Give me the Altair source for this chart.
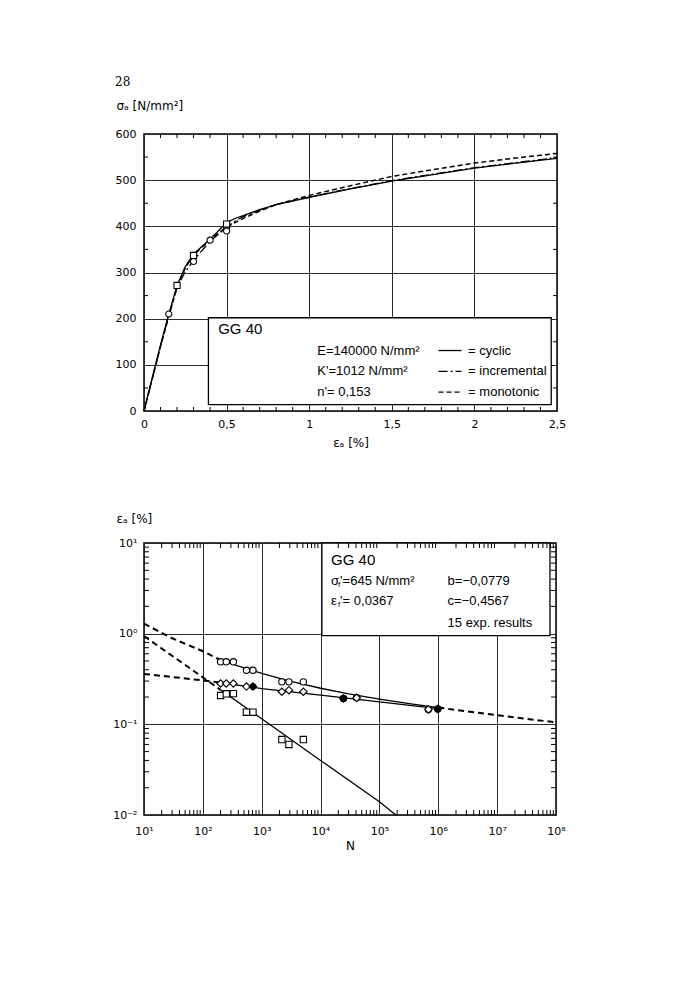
import altair as alt
import pandas as pd

FONT = "DejaVu Sans"
TFONT = "Liberation Sans"

# ---------------- top chart: cyclic stress-strain curve ----------------
cyc_eps = [0, 0.05, 0.10, 0.15, 0.20, 0.25, 0.30, 0.40, 0.50, 0.55, 0.60, 0.70, 0.80, 1.00, 1.25, 1.50, 1.75, 2.00, 2.25, 2.50]
cyc_sig = [0, 72, 143, 210, 272, 313, 340, 372, 408, 417, 423, 436, 447, 463, 481, 498, 512, 526, 537, 547]
inc_eps = [0, 0.05, 0.10, 0.15, 0.20, 0.25, 0.30, 0.40, 0.50, 0.55, 0.60, 0.70, 0.80, 1.00, 1.25, 1.50, 1.75, 2.00, 2.25, 2.50]
inc_sig = [0, 70, 140, 207, 268, 302, 326, 368, 397, 411, 421, 435, 447, 463, 482, 499, 513, 527, 538, 549]
mono_eps = [0, 0.05, 0.10, 0.15, 0.20, 0.25, 0.30, 0.40, 0.50, 0.60, 0.70, 0.80, 1.00, 1.25, 1.50, 1.75, 2.00, 2.25, 2.50]
mono_sig = [0, 70, 140, 205, 268, 310, 338, 371, 399, 417, 433, 447, 467, 488, 508, 523, 537, 548, 558]

circ_eps = [0.15, 0.30, 0.40, 0.50, 0.50]
circ_sig = [210, 324, 370, 398, 390]
sq_eps = [0.20, 0.30, 0.50]
sq_sig = [272, 337, 405]

top_xticks = [0, 0.5, 1, 1.5, 2, 2.5]
top_yticks = [0, 100, 200, 300, 400, 500, 600]
top_xminor = [0.1, 0.2, 0.3, 0.4, 0.6, 0.7, 0.8, 0.9, 1.1, 1.2, 1.3, 1.4, 1.6, 1.7, 1.8, 1.9, 2.1, 2.2, 2.3, 2.4]
top_yminor = [50, 150, 250, 350, 450, 550]

top_box = {"x": [0.39], "x2": [2.465], "y": [13.6], "y2": [202]}
top_texts = ["GG 40", "E=140000 N/mm²", "K'=1012 N/mm²", "n'= 0,153"]
top_text_x = [0.449, 1.049, 1.049, 1.049]
top_text_y = [177, 131, 86, 41]
top_text_size = [15, 13, 13, 13]
leg_names = ["= cyclic", "= incremental", "= monotonic"]
leg_y = [131, 86, 41]
leg_x0, leg_x1, leg_tx = 1.783, 1.922, 1.962

# ---------------- bottom chart: strain-life curve ----------------
tot_N = [10, 30, 100, 200, 500, 1000, 3000, 1e4, 3e4, 1e5, 3e5, 1e6, 1e7, 1e8]
tot_eps = [1.29, 0.89, 0.64, 0.51, 0.42, 0.365, 0.30, 0.25, 0.217, 0.19, 0.17, 0.153, 0.126, 0.105]
el_N = [10, 100, 200, 1000, 1e4, 1e5, 1e6]
el_eps = [0.36, 0.305, 0.288, 0.248, 0.21, 0.177, 0.149]
pl_N = [10, 100, 200, 1000, 1e4, 1e5, 1.9e5]
pl_eps = [0.94, 0.33, 0.24, 0.115, 0.040, 0.014, 0.010]

pt_N = [200, 250, 330, 550, 710, 2200, 2900, 5100, 24500, 41000, 6.8e5, 9.8e5]
tot_pts = [0.489, 0.489, 0.489, 0.395, 0.395, 0.294, 0.294, 0.294, 0.193, 0.196, 0.146, 0.148]
el_pts = [0.282, 0.282, 0.282, 0.261, 0.261, 0.229, 0.238, 0.229, 0.193, 0.196, 0.146, 0.148]
pl_pts = [0.208, 0.217, 0.218, 0.136, 0.136, 0.068, 0.060, 0.068]
fill_N = [710, 24500, 9.8e5]
fill_eps = [0.261, 0.193, 0.148]

bot_xticks = [1e1, 1e2, 1e3, 1e4, 1e5, 1e6, 1e7, 1e8]
bot_yticks = [0.01, 0.1, 1, 10]
bot_xminor = [k * 10 ** d for d in range(1, 8) for k in range(2, 10)]
bot_yminor = [k * 10.0 ** d for d in range(-2, 1) for k in range(2, 10)]

bot_box = {"x": [10520], "x2": [7.9e7], "y": [0.953], "y2": [10]}
bot_text_x = [15100, 15100, 15100, 1.44e6, 1.44e6, 1.44e6]
bot_text_y = [6.55, 3.78, 2.27, 3.78, 2.27, 1.315]
bot_texts = ["GG 40", "σ", "ε", "b=−0,0779", "c=−0,4567", "15 exp. results"]
bot_text_size = [15, 13, 13, 13, 13, 13]
sub_texts = ["f", "f"]
sub_y = [3.78, 2.27]
rest_texts = ["'=645 N/mm²", "'= 0,0367"]

W1, H1 = 413, 277
W2, H2 = 412, 272

# ---------- encodings ----------
X1 = alt.X("x:Q", scale=alt.Scale(domain=[0, 2.5], nice=False, zero=False),
           axis=alt.Axis(values=top_xticks, title="εₐ [%]",
                         labelExpr="replace(format(datum.value, '~g'), '.', ',')",
                         labelFlush=False, labelOverlap=False,
                         labelPadding=7, titlePadding=8))
Y1 = alt.Y("y:Q", scale=alt.Scale(domain=[0, 600], nice=False),
           axis=alt.Axis(values=top_yticks, title="σₐ [N/mm²]", titleAngle=0,
                         titleAlign="left", titleBaseline="middle", titleX=-28, titleY=-29,
                         labelFlush=False, labelOverlap=False, labelPadding=8))


def df(xs, ys, **extra):
    d = pd.DataFrame({"x": xs, "y": ys})
    for k, v in extra.items():
        d[k] = v
    return d


def line(d, dash, width, enc_x, enc_y):
    kw = {"color": "black", "strokeWidth": width}
    if dash:
        kw["strokeDash"] = dash
    return alt.Chart(d).mark_line(**kw).encode(x=enc_x, y=enc_y)


top_layers = []
top_layers.append(line(df(cyc_eps, cyc_sig), None, 1.3, X1, Y1))
top_layers.append(line(df(inc_eps, inc_sig), [9, 3, 2, 3], 1.3, X1, Y1))
top_layers.append(line(df(mono_eps, mono_sig), [5, 3], 1.5, X1, Y1))
top_layers.append(alt.Chart(df(circ_eps, circ_sig)).mark_point(
    shape="circle", size=38, filled=True, fill="white", stroke="black", strokeWidth=1.1, opacity=1
).encode(x=X1, y=Y1))
top_layers.append(alt.Chart(df(sq_eps, sq_sig)).mark_point(
    shape="square", size=38, filled=True, fill="white", stroke="black", strokeWidth=1.1, opacity=1
).encode(x=X1, y=Y1))
# legend box
top_layers.append(alt.Chart(pd.DataFrame(top_box)).mark_rect(
    fill="white", stroke="black", strokeWidth=1.3
).encode(x=X1, x2="x2:Q", y=Y1, y2="y2:Q"))
tt = pd.DataFrame({"x": top_text_x, "y": top_text_y, "t": top_texts, "s": top_text_size})
top_layers.append(alt.Chart(tt).mark_text(align="left", baseline="middle", font=TFONT, color="black").encode(
    x=X1, y=Y1, text="t:N", size=alt.Size("s:Q", scale=None, legend=None)))
for name, yy, dash in zip(leg_names, leg_y, [None, [9, 3, 2, 3], [5, 3]]):
    top_layers.append(line(df([leg_x0, leg_x1], [yy, yy]), dash, 1.3, X1, Y1))
lt = pd.DataFrame({"x": [leg_tx] * 3, "y": leg_y, "t": leg_names})
top_layers.append(alt.Chart(lt).mark_text(align="left", baseline="middle", font=TFONT, fontSize=13, color="black").encode(
    x=X1, y=Y1, text="t:N"))
# inner minor ticks
tx = pd.DataFrame({"x": top_xminor})
ty = pd.DataFrame({"y": top_yminor})
top_layers.append(alt.Chart(tx).mark_rule(color="black", strokeWidth=1).encode(x=X1, y=alt.value(H1), y2=alt.value(H1 - 4)))
top_layers.append(alt.Chart(tx).mark_rule(color="black", strokeWidth=1).encode(x=X1, y=alt.value(0), y2=alt.value(4)))
top_layers.append(alt.Chart(ty).mark_rule(color="black", strokeWidth=1).encode(y=Y1, x=alt.value(0), x2=alt.value(4)))
top_layers.append(alt.Chart(ty).mark_rule(color="black", strokeWidth=1).encode(y=Y1, x=alt.value(W1), x2=alt.value(W1 - 4)))

top = alt.layer(*top_layers).properties(
    width=W1, height=H1,
    title=alt.TitleParams("28", anchor="start", frame="bounds", font="DejaVu Serif",
                          fontSize=12, fontWeight="normal", offset=10, color="black"))

# ---------- bottom chart ----------
sup = "['', '¹', '²', '³', '⁴', '⁵', '⁶', '⁷', '⁸']"
X2 = alt.X("x:Q", scale=alt.Scale(type="log", domain=[10, 1e8], nice=False),
           axis=alt.Axis(values=bot_xticks, title="N",
                         labelExpr="'10' + " + sup + "[round(log(datum.value) / LN10)]",
                         labelFlush=False, labelOverlap=False,
                         labelPadding=10, titlePadding=4))
Y2 = alt.Y("y:Q", scale=alt.Scale(type="log", domain=[0.01, 10], nice=False),
           axis=alt.Axis(values=bot_yticks, title="εₐ [%]", titleAngle=0,
                         titleAlign="left", titleBaseline="middle", titleX=-28, titleY=-25,
                         labelExpr="datum.value > 5 ? '10¹' : datum.value > 0.5 ? '10⁰' : datum.value > 0.05 ? '10⁻¹' : '10⁻²'",
                         labelFlush=False, labelOverlap=False, labelPadding=7))

split = 200
solid_parts = []
dashed_parts = []
for nm, Ns, Es, hi in [("tot", tot_N, tot_eps, 1e6), ("el", el_N, el_eps, 1e6), ("pl", pl_N, pl_eps, 1e9)]:
    left = [(n, e) for n, e in zip(Ns, Es) if n <= split]
    mid = [(n, e) for n, e in zip(Ns, Es) if split <= n <= hi]
    right = [(n, e) for n, e in zip(Ns, Es) if n >= hi]
    dashed_parts.append(df([p[0] for p in left], [p[1] for p in left], seg=nm + "L"))
    solid_parts.append(df([p[0] for p in mid], [p[1] for p in mid], seg=nm + "M"))
    if len(right) > 1:
        dashed_parts.append(df([p[0] for p in right], [p[1] for p in right], seg=nm + "R"))
solid_df = pd.concat(solid_parts, ignore_index=True)
dashed_df = pd.concat(dashed_parts, ignore_index=True)

bot_layers = []
bot_layers.append(alt.Chart(dashed_df).mark_line(color="black", strokeWidth=2, strokeDash=[6, 4]).encode(
    x=X2, y=Y2, detail="seg:N"))
bot_layers.append(alt.Chart(solid_df).mark_line(color="black", strokeWidth=1.3).encode(
    x=X2, y=Y2, detail="seg:N"))
pt_style = dict(filled=True, fill="white", stroke="black", strokeWidth=1.1, opacity=1)
bot_layers.append(alt.Chart(df(pt_N, tot_pts)).mark_point(shape="circle", size=40, **pt_style).encode(x=X2, y=Y2))
bot_layers.append(alt.Chart(df(pt_N, el_pts)).mark_point(shape="diamond", size=55, **pt_style).encode(x=X2, y=Y2))
bot_layers.append(alt.Chart(df(pt_N[:len(pl_pts)], pl_pts)).mark_point(shape="square", size=40, **pt_style).encode(x=X2, y=Y2))
bot_layers.append(alt.Chart(df(fill_N, fill_eps)).mark_point(shape="circle", size=45, filled=True, color="black", opacity=1).encode(x=X2, y=Y2))
bot_layers.append(alt.Chart(pd.DataFrame(bot_box)).mark_rect(
    fill="white", stroke="black", strokeWidth=1.3
).encode(x=X2, x2="x2:Q", y=Y2, y2="y2:Q"))
bt = pd.DataFrame({"x": bot_text_x, "y": bot_text_y, "t": bot_texts, "s": bot_text_size})
bot_layers.append(alt.Chart(bt).mark_text(align="left", baseline="middle", font=TFONT, color="black").encode(
    x=X2, y=Y2, text="t:N", size=alt.Size("s:Q", scale=None, legend=None)))
st = pd.DataFrame({"x": [15100, 15100], "y": sub_y, "t": sub_texts})
bot_layers.append(alt.Chart(st).mark_text(align="left", baseline="middle", font=TFONT, fontSize=8, dx=7, dy=4, color="black").encode(
    x=X2, y=Y2, text="t:N"))
rt = pd.DataFrame({"x": [15100, 15100], "y": sub_y, "t": rest_texts})
bot_layers.append(alt.Chart(rt).mark_text(align="left", baseline="middle", font=TFONT, fontSize=13, dx=9, color="black").encode(
    x=X2, y=Y2, text="t:N"))
bx = pd.DataFrame({"x": bot_xminor})
by = pd.DataFrame({"y": bot_yminor})
bot_layers.append(alt.Chart(bx).mark_rule(color="black", strokeWidth=1).encode(x=X2, y=alt.value(H2), y2=alt.value(H2 - 5)))
bot_layers.append(alt.Chart(bx).mark_rule(color="black", strokeWidth=1).encode(x=X2, y=alt.value(0), y2=alt.value(5)))
bot_layers.append(alt.Chart(by).mark_rule(color="black", strokeWidth=1).encode(y=Y2, x=alt.value(0), x2=alt.value(5)))
bot_layers.append(alt.Chart(by).mark_rule(color="black", strokeWidth=1).encode(y=Y2, x=alt.value(W2), x2=alt.value(W2 - 5)))

bottom = alt.layer(*bot_layers).properties(width=W2, height=H2)

chart = alt.vconcat(top, bottom, spacing=62).properties(
    padding={"left": 104, "top": 67, "right": 5, "bottom": 5},
    background="white",
).configure_view(
    stroke="black", strokeWidth=1.5
).configure_axis(
    grid=True, gridColor="#2a2a2a", gridWidth=1, gridOpacity=1,
    domain=False, ticks=False,
    labelFont=FONT, labelFontSize=11, labelColor="black",
    titleFont=FONT, titleFontSize=12, titleFontWeight="normal", titleColor="black",
).configure_title(color="black")

chart.save("out.html", embed_options={"renderer": "svg", "actions": False})
